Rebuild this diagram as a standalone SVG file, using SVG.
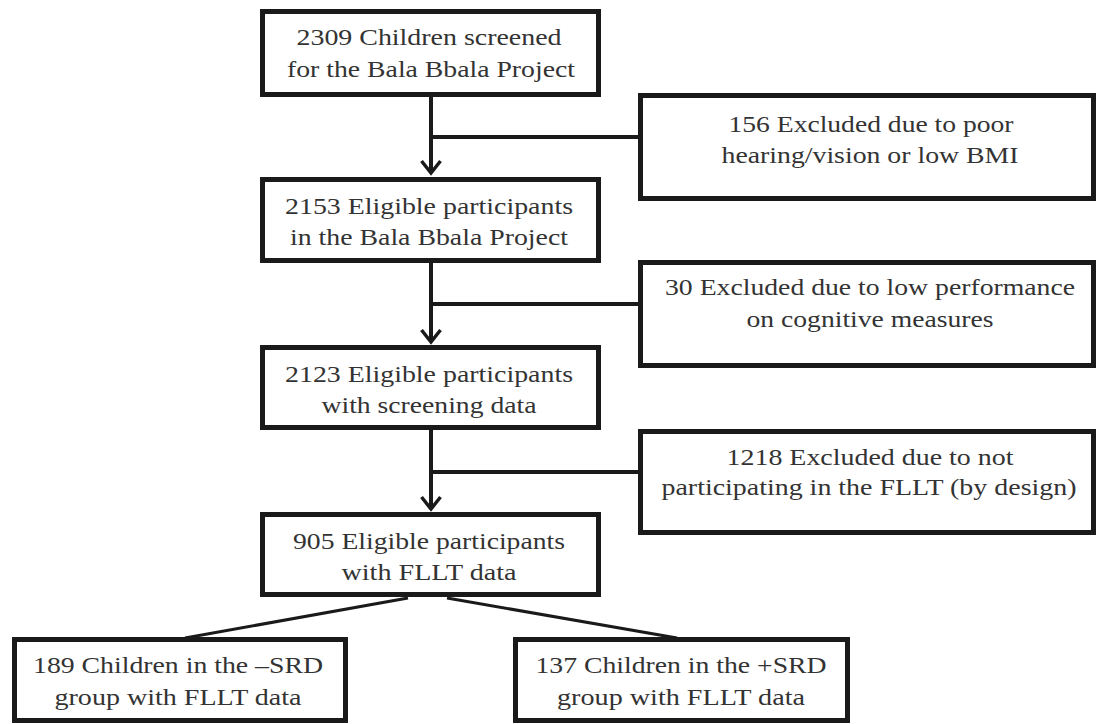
<svg xmlns="http://www.w3.org/2000/svg" width="1097" height="724" viewBox="0 0 1097 724">
<defs>
<style>
.box{fill:#fff;stroke:#1a1a1a;stroke-width:5}
.t{font-family:'Liberation Serif','Times New Roman',serif;font-size:24px;fill:#333;text-anchor:middle}
.ln{stroke:#1a1a1a;stroke-width:4;fill:none}
.dg{stroke:#1a1a1a;stroke-width:3;fill:none}
.ah{stroke:#1a1a1a;stroke-width:3.5;fill:none;stroke-linecap:butt;stroke-linejoin:miter}
</style>
</defs>
<rect width="1097" height="724" fill="#fff"/>
<g id="connectors">
<path class="ln" d="M431,97 V172"/>
<path class="ln" d="M431,137 H640"/>
<path class="ah" d="M421.5,161 L431,173 L440.5,161"/>
<path class="ln" d="M431,263 V341"/>
<path class="ln" d="M431,304 H640"/>
<path class="ah" d="M421.5,330 L431,342 L440.5,330"/>
<path class="ln" d="M431,430 V508"/>
<path class="ln" d="M431,472 H640"/>
<path class="ah" d="M421.5,497 L431,509 L440.5,497"/>
<path class="dg" d="M408,598 L185,638"/>
<path class="dg" d="M447,598 L677,638"/>
</g>
<g id="n1">
<rect class="box" x="262.5" y="11.5" width="336" height="83"/>
<text class="t" x="429" y="45" textLength="265" lengthAdjust="spacingAndGlyphs">2309 Children screened</text>
<text class="t" x="431" y="77" textLength="288" lengthAdjust="spacingAndGlyphs">for the Bala Bbala Project</text>
</g>
<g id="n2">
<rect class="box" x="262.5" y="179.5" width="336" height="81"/>
<text class="t" x="429" y="214" textLength="288" lengthAdjust="spacingAndGlyphs">2153 Eligible participants</text>
<text class="t" x="429" y="245" textLength="278" lengthAdjust="spacingAndGlyphs">in the Bala Bbala Project</text>
</g>
<g id="n3">
<rect class="box" x="262.5" y="347.5" width="336" height="80"/>
<text class="t" x="429" y="382" textLength="288" lengthAdjust="spacingAndGlyphs">2123 Eligible participants</text>
<text class="t" x="429" y="413" textLength="215" lengthAdjust="spacingAndGlyphs">with screening data</text>
</g>
<g id="n4">
<rect class="box" x="262.5" y="514.5" width="336" height="80"/>
<text class="t" x="429" y="549" textLength="272" lengthAdjust="spacingAndGlyphs">905 Eligible participants</text>
<text class="t" x="429" y="580" textLength="175" lengthAdjust="spacingAndGlyphs">with FLLT data</text>
</g>
<g id="r1">
<rect class="box" x="640.5" y="95.5" width="453" height="103"/>
<text class="t" x="871" y="132" textLength="285" lengthAdjust="spacingAndGlyphs">156 Excluded due to poor</text>
<text class="t" x="870" y="163" textLength="297" lengthAdjust="spacingAndGlyphs">hearing/vision or low BMI</text>
</g>
<g id="r2">
<rect class="box" x="640.5" y="262.5" width="453" height="103"/>
<text class="t" x="870" y="295" textLength="410" lengthAdjust="spacingAndGlyphs">30 Excluded due to low performance</text>
<text class="t" x="870" y="327" textLength="247" lengthAdjust="spacingAndGlyphs">on cognitive measures</text>
</g>
<g id="r3">
<rect class="box" x="640.5" y="431.5" width="453" height="101"/>
<text class="t" x="870" y="465" textLength="287" lengthAdjust="spacingAndGlyphs">1218 Excluded due to not</text>
<text class="t" x="869" y="495" textLength="415" lengthAdjust="spacingAndGlyphs">participating in the FLLT (by design)</text>
</g>
<g id="b1">
<rect class="box" x="14.5" y="639.5" width="331" height="81"/>
<text class="t" x="178" y="673" textLength="290" lengthAdjust="spacingAndGlyphs">189 Children in the –SRD</text>
<text class="t" x="178" y="705" textLength="247" lengthAdjust="spacingAndGlyphs">group with FLLT data</text>
</g>
<g id="b2">
<rect class="box" x="515.5" y="639.5" width="332" height="81"/>
<text class="t" x="681" y="673" textLength="291" lengthAdjust="spacingAndGlyphs">137 Children in the +SRD</text>
<text class="t" x="681" y="705" textLength="248" lengthAdjust="spacingAndGlyphs">group with FLLT data</text>
</g>
</svg>
